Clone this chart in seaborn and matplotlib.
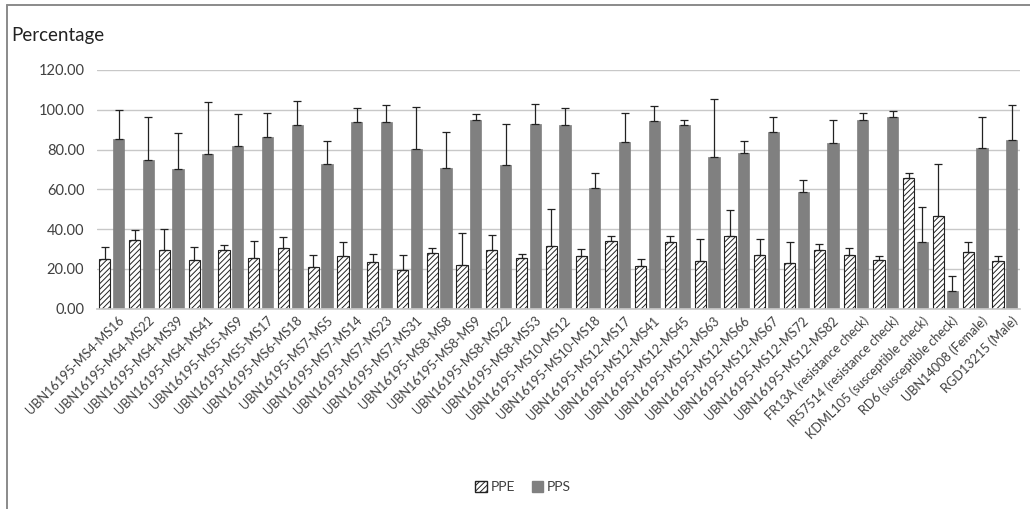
import numpy as np
import pandas as pd
import matplotlib
matplotlib.use("Agg")
import matplotlib.pyplot as plt
import seaborn as sns
from matplotlib.lines import Line2D
from matplotlib.patches import Patch

categories = [
    "UBN16195-MS4-MS16", "UBN16195-MS4-MS22", "UBN16195-MS4-MS39", "UBN16195-MS4-MS41",
    "UBN16195-MS5-MS9", "UBN16195-MS5-MS17", "UBN16195-MS6-MS18", "UBN16195-MS7-MS5",
    "UBN16195-MS7-MS14", "UBN16195-MS7-MS23", "UBN16195-MS7-MS31", "UBN16195-MS8-MS8",
    "UBN16195-MS8-MS9", "UBN16195-MS8-MS22", "UBN16195-MS8-MS53", "UBN16195-MS10-MS12",
    "UBN16195-MS10-MS18", "UBN16195-MS12-MS17", "UBN16195-MS12-MS41", "UBN16195-MS12-MS45",
    "UBN16195-MS12-MS63", "UBN16195-MS12-MS66", "UBN16195-MS12-MS67", "UBN16195-MS12-MS72",
    "UBN16195-MS12-MS82", "FR13A (resistance check)", "IR57514 (resistance check)",
    "KDML105 (susceptible check)", "RD6 (susceptible check)", "UBN14008 (Female)",
    "RGD13215 (Male)",
]

ppe = [25.2, 34.4, 29.4, 24.4, 29.3, 25.7, 30.7, 20.9, 26.4, 23.7, 19.7, 28.0,
       22.2, 29.4, 25.7, 31.4, 26.4, 34.2, 21.5, 33.4, 23.9, 36.4, 27.2, 23.0,
       29.4, 27.2, 24.4, 65.6, 46.8, 28.5, 23.9]
ppe_err = [6.0, 5.3, 10.9, 6.8, 2.6, 8.4, 5.4, 6.1, 7.0, 4.0, 7.3, 2.5,
           16.0, 7.5, 2.0, 18.7, 3.5, 2.1, 3.5, 2.9, 11.0, 13.0, 7.7, 10.4,
           3.3, 3.5, 2.1, 2.8, 25.8, 4.9, 2.6]
pps = [85.3, 74.8, 70.0, 77.6, 82.0, 86.1, 92.3, 72.6, 93.8, 93.8, 80.5, 70.6,
       95.1, 72.1, 93.0, 92.3, 60.8, 84.0, 94.5, 92.3, 76.3, 78.3, 88.8, 58.8,
       83.3, 95.1, 96.6, 33.6, 9.0, 80.6, 84.6]
pps_err = [14.7, 21.7, 18.1, 26.1, 15.8, 12.4, 11.9, 11.9, 6.9, 8.4, 20.9, 18.0,
           2.7, 20.7, 9.7, 8.4, 7.5, 14.5, 7.5, 2.8, 29.2, 6.2, 7.7, 6.0,
           11.8, 3.5, 2.9, 17.3, 7.5, 15.9, 17.6]
series = ["PPE", "PPS"]
yticks = [0, 20, 40, 60, 80, 100, 120]

df = pd.DataFrame({
    "Line": categories * 2,
    "Series": [series[0]] * len(categories) + [series[1]] * len(categories),
    "Value": ppe + pps,
    "Err": ppe_err + pps_err,
})

sns.set_theme(style="white")
plt.rcParams["font.family"] = ["Lato", "DejaVu Sans"]
plt.rcParams["hatch.linewidth"] = 0.7
plt.rcParams["hatch.color"] = "#222222"

fig = plt.figure(figsize=(10.30, 5.09), dpi=100)
ax = fig.add_axes([0.094, 0.3935, 0.896, 0.469])

sns.barplot(data=df, x="Line", y="Value", hue="Series", order=categories,
            hue_order=series, palette={"PPE": "white", "PPS": "#808080"},
            width=0.92, gap=0.18, errorbar=None, legend=False, ax=ax,
            saturation=1)

n = len(categories)
bars = ax.patches[: 2 * n]
for i, b in enumerate(bars[:n]):
    b.set_hatch("//////")
    b.set_edgecolor("#222222")
    b.set_linewidth(0.8)
for b in bars[n:]:
    b.set_edgecolor("#808080")
    b.set_linewidth(0.5)

# error bars (upper only), placed at bar centers
for s_idx, (vals, errs) in enumerate([(ppe, ppe_err), (pps, pps_err)]):
    seg = bars[s_idx * n:(s_idx + 1) * n]
    xs = [b.get_x() + b.get_width() / 2 for b in seg]
    ax.errorbar(xs, vals, yerr=[np.zeros(n), errs], fmt="none",
                ecolor="#222222", elinewidth=0.9, capsize=3.2, capthick=0.9)

ax.set_ylim(0, 120)
ax.set_yticks(yticks)
ax.set_yticklabels([f"{v:.2f}" for v in yticks], fontsize=10.5, color="#404040")
ax.yaxis.grid(True, color="#c8c8c8", linewidth=1.0)
ax.set_axisbelow(True)
for sp in ["top", "right", "left"]:
    ax.spines[sp].set_visible(False)
ax.spines["bottom"].set_color("#c8c8c8")
ax.tick_params(axis="y", length=0, pad=9)
ax.tick_params(axis="x", length=0, pad=4)
ax.set_xlim(-0.5, n - 0.5)
ax.set_xlabel("")
ax.set_ylabel("")
ax.set_xticks(range(n))
ax.set_xticklabels(categories, rotation=45, ha="right", rotation_mode="anchor",
                   fontsize=9.2, color="#404040")
for lab in ax.get_xticklabels():
    lab.set_transform(lab.get_transform() + matplotlib.transforms.ScaledTranslation(6 / 100, 0, fig.dpi_scale_trans))

fig.text(0.011, 0.931, "Percentage", fontsize=13.5, color="#222222", ha="left", va="center")

handles = [Patch(facecolor="white", edgecolor="#222222", hatch="//////", label="PPE"),
           Patch(facecolor="#808080", edgecolor="#808080", label="PPS")]
fig.legend(handles=handles, loc="center", bbox_to_anchor=(0.508, 0.043), ncol=2,
           frameon=False, fontsize=10, handlelength=0.8, handleheight=0.8,
           handletextpad=0.3, columnspacing=1.2, labelcolor="#404040")

# outer chart border (top and left visible)
fig.add_artist(Line2D([0.0065, 1.0], [0.990, 0.990], transform=fig.transFigure,
                      color="#8a8a8a", linewidth=1.4))
fig.add_artist(Line2D([0.0065, 0.0065], [0.0, 0.990], transform=fig.transFigure,
                      color="#8a8a8a", linewidth=1.4))

fig.savefig("out.png", dpi=100, facecolor="white")
